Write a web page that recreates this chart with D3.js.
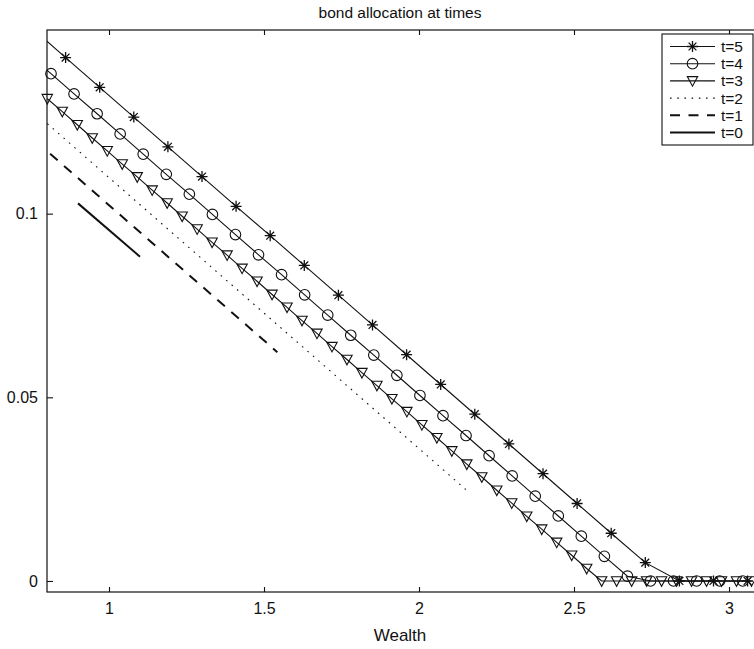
<!DOCTYPE html>
<html>
<head>
<meta charset="utf-8">
<script src="https://cdn.jsdelivr.net/npm/d3@7"></script>
<style>
body { margin: 0; background: #fff; }
svg { display: block; font-family: "Liberation Sans", Arial, sans-serif; }
</style>
</head>
<body>
<div id="chart"></div>
<script>
// wealth grids (x) and bond allocation (y)
const wealth5 = [0.75, 0.86, 0.97, 1.08, 1.19, 1.30, 1.41, 1.52, 1.63, 1.74, 1.85, 1.96, 2.07, 2.18, 2.29, 2.40, 2.51, 2.62, 2.73, 2.84, 2.95, 3.06]
const bond5 = [0.1506, 0.1425, 0.1344, 0.1263, 0.1182, 0.1101, 0.1020, 0.0940, 0.0859, 0.0778, 0.0697, 0.0616, 0.0535, 0.0454, 0.0373, 0.0292, 0.0211, 0.0130, 0.0050, 0, 0, 0]

const wealth4 = [0.7385, 0.8129, 0.8873, 0.9617, 1.0360, 1.1104, 1.1848, 1.2592, 1.3336, 1.4079, 1.4823, 1.5567, 1.6311, 1.7055, 1.7798, 1.8542, 1.9286, 2.0030, 2.0774, 2.1517, 2.2261, 2.3005, 2.3749, 2.4493, 2.5236, 2.5980, 2.6724, 2.7468, 2.8211, 2.8955, 2.9699, 3.0443]
const bond4 = [0.1436, 0.1381, 0.1326, 0.1272, 0.1217, 0.1162, 0.1107, 0.1053, 0.0998, 0.0943, 0.0888, 0.0834, 0.0779, 0.0724, 0.0669, 0.0615, 0.0560, 0.0505, 0.0450, 0.0396, 0.0341, 0.0286, 0.0231, 0.0177, 0.0122, 0.0067, 0.0013, 0, 0, 0, 0, 0]

const wealth3 = [0.801, 0.8493, 0.8977, 0.946, 0.9943, 1.0427, 1.091, 1.1393, 1.1876, 1.236, 1.2843, 1.3326, 1.381, 1.4293, 1.4776, 1.526, 1.5743, 1.6226, 1.6709, 1.7193, 1.7676, 1.8159, 1.8643, 1.9126, 1.9609, 2.0093, 2.0576, 2.1059, 2.1542, 2.2026, 2.2509, 2.2992, 2.3476, 2.3959, 2.4442, 2.4926, 2.5409, 2.5892, 2.6375, 2.6859, 2.7342, 2.7825, 2.8309, 2.8792, 2.9275, 2.9759, 3.0242, 3.0725]
const bond3 = [0.1313, 0.1278, 0.1242, 0.1206, 0.1171, 0.1135, 0.1100, 0.1064, 0.1029, 0.0993, 0.0958, 0.0922, 0.0887, 0.0851, 0.0816, 0.0780, 0.0745, 0.0709, 0.0674, 0.0638, 0.0603, 0.0567, 0.0532, 0.0496, 0.0461, 0.0425, 0.0390, 0.0354, 0.0318, 0.0283, 0.0247, 0.0212, 0.0176, 0.0141, 0.0105, 0.0070, 0.0034, 0, 0, 0, 0, 0, 0, 0, 0, 0, 0, 0]

const wealth2 = [0.801, 2.151]
const bond2 = [0.1245, 0.0249]

const wealth1 = [0.81, 1.543]
const bond1 = [0.1163, 0.0623]

const wealth0 = [0.9, 1.1]
const bond0 = [0.1028, 0.0883]

const legendLabels = ["t=5", "t=4", "t=3", "t=2", "t=1", "t=0"]
const xTicks = [1, 1.5, 2, 2.5, 3]
const yTicks = [0, 0.05, 0.1]

const width = 754, height = 649
const margin = ({top: 30, right: -6, bottom: 57, left: 47})

const series = [
    {name: legendLabels[0], x: wealth5, y: bond5, marker: "star", dash: null, sw: 1.1},
    {name: legendLabels[1], x: wealth4, y: bond4, marker: "circle", dash: null, sw: 1.1},
    {name: legendLabels[2], x: wealth3, y: bond3, marker: "tri", dash: null, sw: 1.1},
    {name: legendLabels[3], x: wealth2, y: bond2, marker: null, dash: "1.6,5.6", sw: 1.1},
    {name: legendLabels[4], x: wealth1, y: bond1, marker: null, dash: "10,8.5", sw: 2},
    {name: legendLabels[5], x: wealth0, y: bond0, marker: null, dash: null, sw: 2}
]

const x = d3.scaleLinear().domain([0.8, 3.1]).range([margin.left, width - margin.right])
const y = d3.scaleLinear().domain([-0.003, 0.15]).range([height - margin.bottom, margin.top])

const svg = d3.select("#chart").append("svg")
    .attr("width", width)
    .attr("height", height)

svg.append("defs").append("clipPath").attr("id", "clip")
    .append("rect")
    .attr("x", x.range()[0]).attr("y", y.range()[1])
    .attr("width", x.range()[1] - x.range()[0])
    .attr("height", y.range()[0] - y.range()[1])

const markerPath = {
    star: "M-5.5,0H5.5M0,-5.5V5.5M-3.9,-3.9L3.9,3.9M-3.9,3.9L3.9,-3.9",
    tri: "M-5.2,-4.3L5.2,-4.3L0,5.3Z"
}

function drawMarker(g, type) {
    if (type === "circle") {
        g.append("circle").attr("r", 5.3)
            .attr("fill", "none").attr("stroke", "#111").attr("stroke-width", 1.1)
    } else {
        g.append("path").attr("d", markerPath[type])
            .attr("fill", "none").attr("stroke", "#111").attr("stroke-width", type === "star" ? 1.3 : 1.1)
    }
}

const line = d3.line().x(d => x(d[0])).y(d => y(d[1]))

const plot = svg.append("g").attr("clip-path", "url(#clip)")
series.forEach(s => {
    const pts = s.x.map((v, i) => [v, s.y[i]])
    plot.append("path")
        .datum(pts)
        .attr("d", line)
        .attr("fill", "none")
        .attr("stroke", "#111")
        .attr("stroke-width", s.sw)
        .attr("stroke-dasharray", s.dash)
})

// markers are not clipped, but points outside xlim are dropped
series.filter(s => s.marker).forEach(s => {
    const pts = s.x.map((v, i) => [v, s.y[i]]).filter(d => d[0] >= 0.8 && d[0] <= 3.1)
    pts.forEach(d => {
        const g = svg.append("g").attr("transform", `translate(${x(d[0])},${y(d[1])})`)
        drawMarker(g, s.marker)
    })
})

// axes box
const x0 = x.range()[0], x1 = x.range()[1], yb = y.range()[0], yt = y.range()[1]
svg.append("rect")
    .attr("x", x0).attr("y", yt)
    .attr("width", x1 - x0).attr("height", yb - yt)
    .attr("fill", "none").attr("stroke", "#111").attr("stroke-width", 1.2)

const xAxis = svg.append("g").attr("transform", `translate(0,${yb})`)
    .call(d3.axisBottom(x).tickValues(xTicks).tickSize(-5).tickPadding(11).tickFormat(d3.format("")))
const xAxisTop = svg.append("g").attr("transform", `translate(0,${yt})`)
    .call(d3.axisTop(x).tickValues(xTicks).tickSize(-5).tickFormat(""))
const yAxis = svg.append("g").attr("transform", `translate(${x0},0)`)
    .call(d3.axisLeft(y).tickValues(yTicks).tickSize(-6).tickPadding(9).tickFormat(d3.format("")))

svg.selectAll(".domain").remove()
svg.selectAll(".tick line").attr("stroke", "#111").attr("stroke-width", 1.1)
svg.selectAll(".tick text")
    .attr("font-family", "Liberation Sans, Arial, sans-serif")
    .attr("font-size", 16)
    .attr("fill", "#111")

svg.append("text")
    .attr("x", (x0 + 753) / 2).attr("y", 18)
    .attr("text-anchor", "middle")
    .attr("font-size", 15.5)
    .attr("fill", "#111")
    .text("bond allocation at times")

svg.append("text")
    .attr("x", (x0 + 753) / 2).attr("y", 641)
    .attr("text-anchor", "middle")
    .attr("font-size", 17)
    .attr("fill", "#111")
    .text("Wealth")

// legend
const legend = svg.append("g")
const lx = 662, ly = 34, rowH = 17.2
legend.append("rect")
    .attr("x", lx).attr("y", ly)
    .attr("width", 91).attr("height", 12.5 * 2 + rowH * 5)
    .attr("fill", "#fff").attr("stroke", "#111").attr("stroke-width", 1.1)

series.forEach((s, i) => {
    const cy = ly + 12.5 + i * rowH
    legend.append("line")
        .attr("x1", lx + 8).attr("x2", lx + 53)
        .attr("y1", cy).attr("y2", cy)
        .attr("stroke", "#111")
        .attr("stroke-width", s.sw)
        .attr("stroke-dasharray", s.dash)
    if (s.marker) {
        const g = legend.append("g").attr("transform", `translate(${lx + 30.5},${cy})`)
        drawMarker(g, s.marker)
    }
    legend.append("text")
        .attr("x", lx + 59).attr("y", cy)
        .attr("dy", "0.35em")
        .attr("font-size", 15.5)
        .attr("fill", "#111")
        .text(s.name)
})
</script>
</body>
</html>
